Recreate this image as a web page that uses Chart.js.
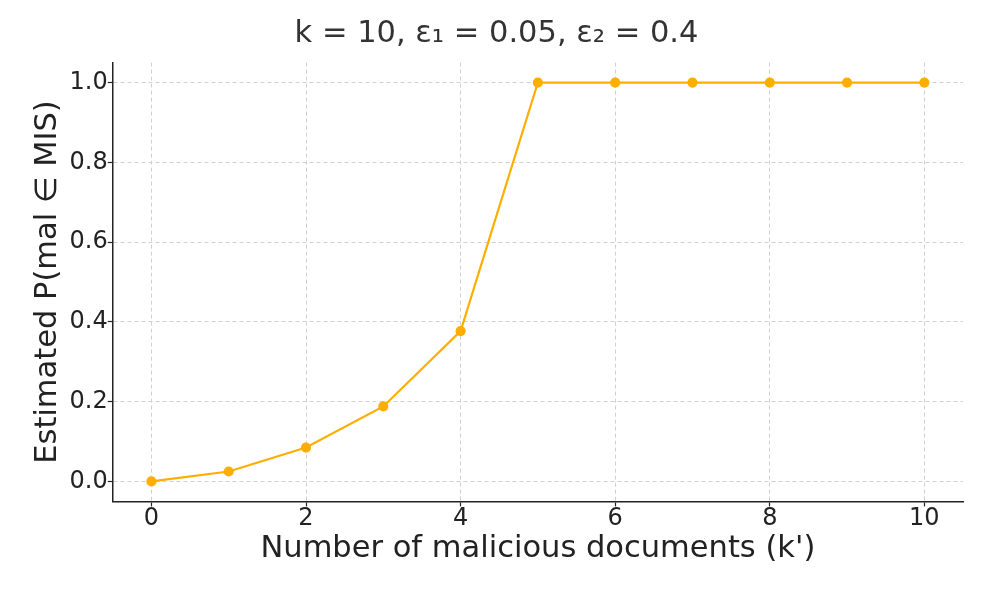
<!DOCTYPE html>
<html lang="en">
<head>
  <meta charset="UTF-8">
  <title>Estimated P(mal in MIS)</title>
  <script src="https://cdn.jsdelivr.net/npm/chart.js"></script>
  <style>
    html, body { margin: 0; padding: 0; background: #fff; }
    #wrap { width: 996px; height: 598px; }
  </style>
</head>
<body>
  <div id="wrap"><canvas id="probChart" width="996" height="598"></canvas></div>

  <script>
    // data
    const kPrime = [0, 1, 2, 3, 4, 5, 6, 7, 8, 9, 10];
    const pMal = [0.0, 0.025, 0.085, 0.188, 0.377, 1.0, 1.0, 1.0, 1.0, 1.0, 1.0];
    const xTicks = [0, 2, 4, 6, 8, 10];
    const yTicks = [0.0, 0.2, 0.4, 0.6, 0.8, 1.0];

    const titleText = 'k = 10, ε₁ = 0.05, ε₂ = 0.4';
    const xLabel = "Number of malicious documents (k')";
    const yLabel = 'Estimated P(mal ∈ MIS)';

    const font = "'DejaVu Sans', sans-serif";
    const lineColor = '#ffae00';

    const ctx = document.getElementById('probChart').getContext('2d');
    const chart = new Chart(ctx, {
      type: 'line',
      data: {
        datasets: [{
          data: kPrime.map((k, i) => ({ x: k, y: pMal[i] })),
          borderColor: lineColor,
          backgroundColor: lineColor,
          borderWidth: 2.2,
          pointRadius: 4,
          pointHoverRadius: 4,
          tension: 0
        }]
      },
      options: {
        responsive: false,
        animation: false,
        layout: { padding: { left: 30, right: 33, top: 8, bottom: 31 } },
        plugins: {
          legend: { display: false },
          tooltip: { enabled: false },
          title: {
            display: true,
            text: titleText,
            color: '#333',
            font: { family: font, size: 30.5, weight: 'normal' },
            padding: { top: 8, bottom: 10 }
          }
        },
        scales: {
          x: {
            type: 'linear',
            min: -0.5,
            max: 10.5,
            afterBuildTicks: s => { s.ticks = xTicks.map(v => ({ value: v })); },
            ticks: {
              color: '#222',
              font: { family: font, size: 24, lineHeight: 1.0 },
              padding: 0,
              maxRotation: 0,
              callback: v => String(v)
            },
            grid: {
              color: '#d0d0d0',
              lineWidth: 1,
              tickColor: '#222',
              tickLength: 5,
              tickWidth: 1.2
            },
            border: { display: true, color: '#222', width: 1.5, dash: [4, 3] },
            title: {
              display: true,
              text: xLabel,
              color: '#222',
              font: { family: font, size: 30.5 },
              padding: { top: 0, bottom: 0 }
            }
          },
          y: {
            min: -0.05,
            max: 1.05,
            afterBuildTicks: s => { s.ticks = yTicks.map(v => ({ value: v })); },
            ticks: {
              color: '#222',
              font: { family: font, size: 24 },
              padding: 0,
              callback: v => v.toFixed(1)
            },
            grid: {
              color: '#d0d0d0',
              lineWidth: 1,
              tickColor: '#222',
              tickLength: 5,
              tickWidth: 1.2
            },
            border: { display: true, color: '#222', width: 1.5, dash: [4, 3] },
            title: {
              display: true,
              text: yLabel,
              color: '#222',
              font: { family: font, size: 30.5 },
              padding: { top: 0, bottom: 3 }
            }
          }
        }
      }
    });
  </script>
</body>
</html>
